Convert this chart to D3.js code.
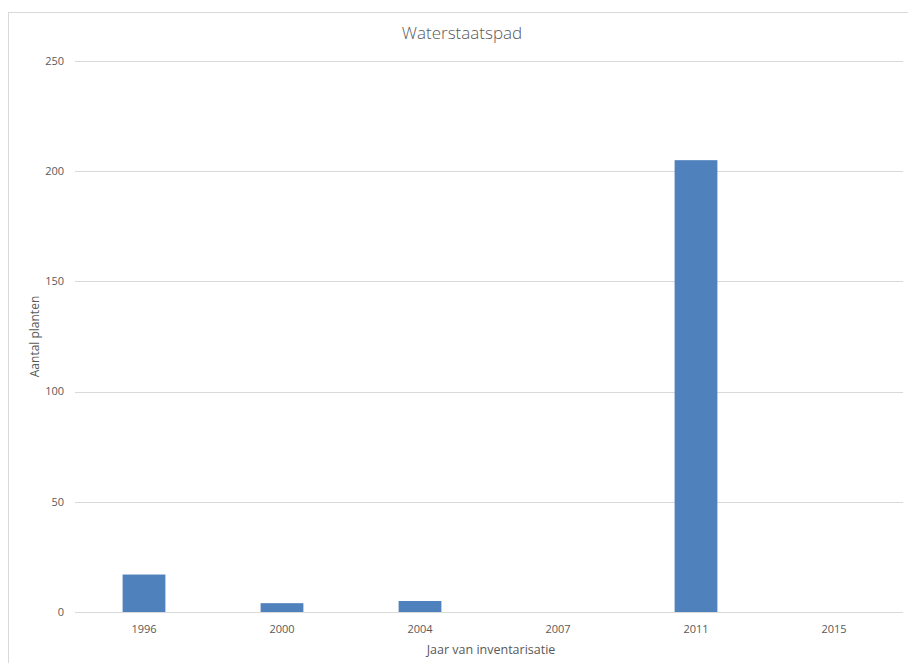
<!DOCTYPE html>
<html>
<head>
<meta charset="UTF-8">
<script src="https://d3js.org/d3.v7.min.js"></script>
<style>
  body { margin: 0; background: #fff; }
  text { font-family: "Open Sans", "Liberation Sans", sans-serif; fill: #595959; }
</style>
</head>
<body>
<div id="chart"></div>
<script>
// data
var years = ["1996", "2000", "2004", "2007", "2011", "2015"];
var planten = [17, 4, 5, 0, 205, 0];
var yTicks = [0, 50, 100, 150, 200, 250];

var width = 908, height = 663;
var margin = {top: 61, right: 5, bottom: 51, left: 75};

var svg = d3.select("#chart").append("svg")
    .attr("width", width)
    .attr("height", height);

// chart area border
svg.append("rect")
    .attr("x", 8.5).attr("y", 12.5)
    .attr("width", width - 8).attr("height", height)
    .attr("fill", "#fff")
    .attr("stroke", "#d9d9d9");

var x = d3.scaleBand()
    .domain(years)
    .range([margin.left, width - margin.right])
    .paddingInner(0.69)
    .paddingOuter(0.345);

var y = d3.scaleLinear()
    .domain([0, 250])
    .range([height - margin.bottom, margin.top]);

// gridlines
svg.append("g")
    .selectAll("line")
    .data(yTicks)
    .enter()
    .append("line")
    .attr("x1", margin.left).attr("x2", width - margin.right)
    .attr("y1", function(d){ return Math.round(y(d)) + 0.5; })
    .attr("y2", function(d){ return Math.round(y(d)) + 0.5; })
    .attr("stroke", "#d9d9d9");

// y tick labels
svg.append("g")
    .selectAll("text")
    .data(yTicks)
    .enter()
    .append("text")
    .attr("x", 64)
    .attr("y", function(d){ return y(d); })
    .attr("dy", "0.35em")
    .attr("text-anchor", "end")
    .style("font-size", "11px")
    .text(function(d){ return d; });

// bars
svg.append("g")
    .selectAll("rect")
    .data(planten)
    .enter()
    .append("rect")
    .attr("x", function(d, i){ return x(years[i]); })
    .attr("width", x.bandwidth())
    .attr("y", function(d){ return y(d); })
    .attr("height", function(d){ return y(0) - y(d); })
    .attr("fill", "#4f81bd");

// x tick labels
svg.append("g")
    .selectAll("text")
    .data(years)
    .enter()
    .append("text")
    .attr("x", function(d){ return x(d) + x.bandwidth() / 2; })
    .attr("y", 633)
    .attr("text-anchor", "middle")
    .style("font-size", "11px")
    .text(function(d){ return d; });

// title (centred on the chart area, not the plot)
svg.append("text")
    .attr("x", 462)
    .attr("y", 39)
    .attr("text-anchor", "middle")
    .style("font-size", "17px")
    .style("font-weight", "300")
    .text("Waterstaatspad");

// axis titles
svg.append("text")
    .attr("x", 491)
    .attr("y", 654)
    .attr("text-anchor", "middle")
    .style("font-size", "12.5px")
    .text("Jaar van inventarisatie");

svg.append("text")
    .attr("transform", "translate(39," + ((margin.top + height - margin.bottom) / 2) + ") rotate(-90)")
    .attr("text-anchor", "middle")
    .style("font-size", "12px")
    .text("Aantal planten");
</script>
</body>
</html>
